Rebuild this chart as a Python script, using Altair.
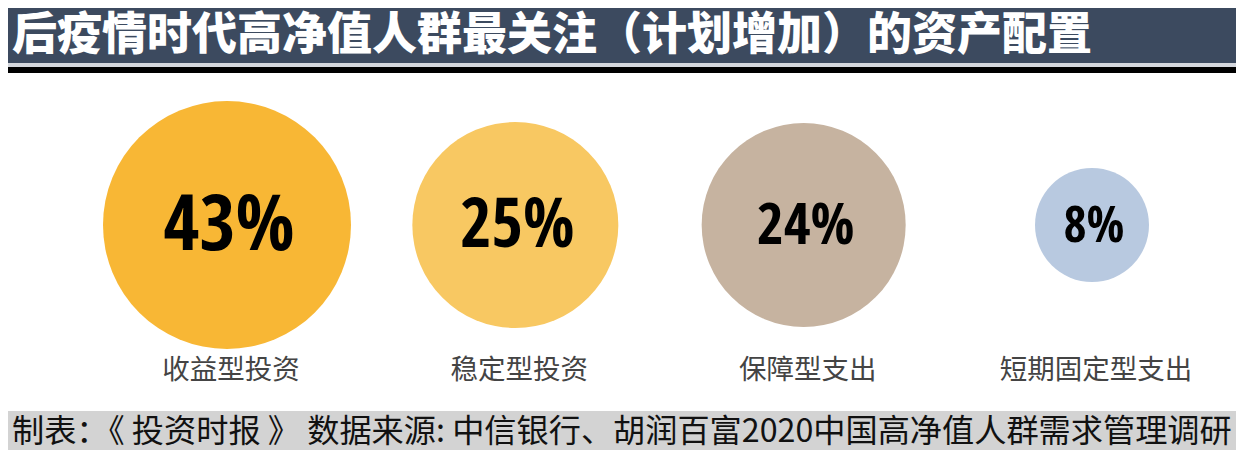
import altair as alt
import pandas as pd

# ---- data ----
categories = ["收益型投资", "稳定型投资", "保障型支出", "短期固定型支出"]
shares = [43, 25, 24, 8]
share_labels = ["43%", "25%", "24%", "8%"]
circle_colors = ["#f8b735", "#f8c862", "#c6b3a0", "#b8c9e0"]

title_text = "后疫情时代高净值人群最关注（计划增加）的资产配置"
footer_text = "制表：《 投资时报 》 数据来源: 中信银行、胡润百富2020中国高净值人群需求管理调研"

W, H = 1228, 442

df = pd.DataFrame({"cat": categories, "share": shares, "label": share_labels})

x_enc = alt.X("cat:N", sort=categories, axis=None,
              scale=alt.Scale(type="point", range=[219, 1084], padding=0))

base = alt.Chart(df)

circles = base.mark_circle(opacity=1).encode(
    x=x_enc,
    y=alt.value(217),
    size=alt.Size("share:Q", legend=None,
                  scale=alt.Scale(domain=[8, 24, 25, 43],
                                  range=[12996, 41616, 42436, 61504])),
    color=alt.Color("cat:N", legend=None,
                    scale=alt.Scale(domain=categories, range=circle_colors)),
)

pct = base.mark_text(
    font="Liberation Sans Narrow, Arial Narrow, Open Sans Condensed, Roboto Condensed, Roboto, sans-serif",
    fontWeight=900, color="#000000", baseline="middle", align="center", dx=2,
).encode(
    x=x_enc,
    y=alt.value(219),
    text="label:N",
    size=alt.Size("share:Q", legend=None,
                  scale=alt.Scale(domain=[8, 24, 25, 43], range=[50, 58, 68, 78])),
)

names = base.mark_text(
    font="Noto Sans CJK SC", fontSize=27.5, color="#444444",
    baseline="middle", align="center", dx=4,
).encode(
    x=x_enc,
    y=alt.value(363),
    text="cat:N",
)

deco = pd.DataFrame({"k": [0]})
dbase = alt.Chart(deco)

title_bar = dbase.mark_rect(color="#3c4a5f").encode(
    x=alt.value(0), x2=alt.value(W), y=alt.value(0), y2=alt.value(55))
light_strip = dbase.mark_rect(color="#d4d7dd").encode(
    x=alt.value(0), x2=alt.value(W), y=alt.value(55), y2=alt.value(59))
black_line = dbase.mark_rect(color="#000000").encode(
    x=alt.value(0), x2=alt.value(W), y=alt.value(59), y2=alt.value(65))
title = dbase.mark_text(
    text=title_text, font="Noto Sans CJK SC", fontWeight=900, fontSize=45,
    color="#ffffff", align="left", baseline="middle",
).encode(x=alt.value(4), y=alt.value(28))

footer_bar = dbase.mark_rect(color="#d3d3d3").encode(
    x=alt.value(0), x2=alt.value(W), y=alt.value(403), y2=alt.value(H))
footer = dbase.mark_text(
    text=footer_text, font="Noto Sans CJK SC", fontSize=32.2,
    color="#111111", align="left", baseline="middle",
).encode(x=alt.value(4), y=alt.value(424))

chart = alt.layer(
    title_bar, light_strip, black_line, title,
    circles, pct, names,
    footer_bar, footer,
).resolve_scale(size="independent").properties(
    width=W, height=H,
    autosize=alt.AutoSizeParams(type="none"),
    padding=0,
    background="#ffffff",
).configure_view(stroke=None)

chart.save("out.html", embed_options={"renderer": "svg", "actions": False})
